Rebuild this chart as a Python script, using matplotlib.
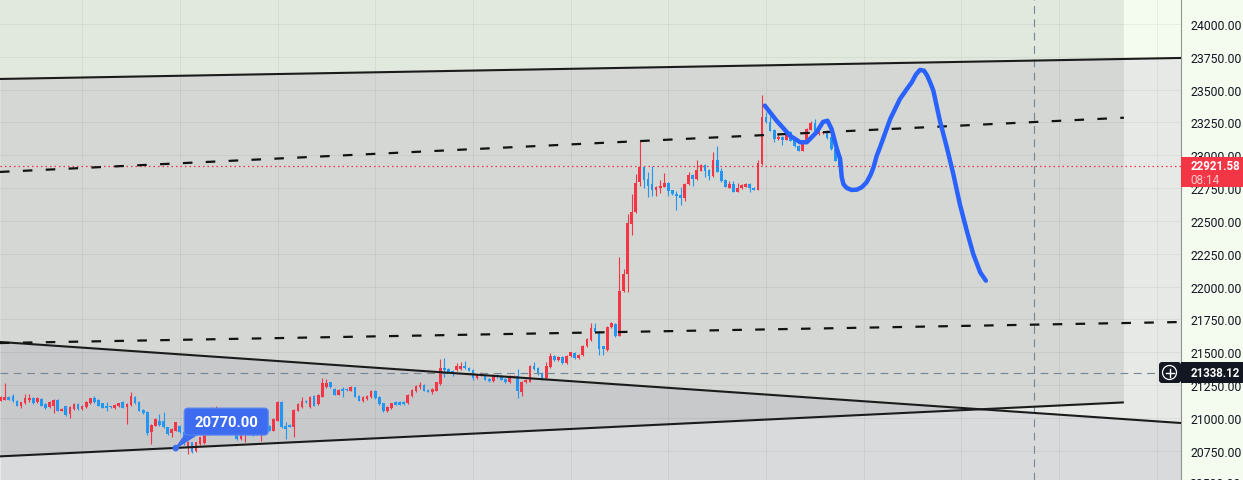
import numpy as np
import matplotlib
matplotlib.use("Agg")
import matplotlib.pyplot as plt
from matplotlib.patches import FancyBboxPatch, Polygon, Circle, Rectangle
from matplotlib.lines import Line2D
import matplotlib.transforms as mtransforms

plt.rcParams['font.family'] = ['Roboto', 'DejaVu Sans']

# ---------------- data ----------------
opens = [21131, 21139, 21157, 21165, 21131, 21093, 21111, 21139, 21149, 21119,
         21144, 21106, 21081, 21093, 21139, 21055, 21088, 21030, 21068, 21106,
         21068, 21081, 21114, 21149, 21139, 21111, 21088, 21088, 21073, 21088,
         21123, 21081, 21098, 21162, 21119, 21060, 21043, 20890, 20941, 20979,
         20979, 20928, 20885, 20903, 20941, 20894, 20775, 20814, 20746, 20801,
         20809, 20877, 20928, 20954, 21017, 21005, 20916, 20948, 20941, 20839,
         20877, 20916, 20898, 20877, 20890, 20916, 20941, 20903, 20979, 21119,
         20941, 20948, 20933, 21055, 21085, 21131, 21081, 21169, 21106, 21162,
         21233, 21271, 21220, 21177, 21220, 21220, 21207, 21233, 21169, 21126,
         21144, 21157, 21207, 21162, 21111, 21050, 21075, 21119, 21119, 21119,
         21111, 21164, 21203, 21233, 21251, 21215, 21195, 21207, 21258, 21380,
         21372, 21359, 21365, 21372, 21397, 21378, 21367, 21302, 21327, 21327,
         21296, 21281, 21329, 21317, 21296, 21275, 21309, 21317, 21200, 21271,
         21276, 21398, 21382, 21342, 21302, 21385, 21474, 21443, 21466, 21416,
         21469, 21494, 21453, 21479, 21545, 21593, 21684, 21654, 21545, 21519,
         21692, 21715, 21626, 21969, 22096, 22477, 22566, 22794, 22908, 22819,
         22781, 22738, 22748, 22761, 22789, 22733, 22705, 22697, 22677, 22781,
         22850, 22819, 22883, 22926, 22890, 22844, 22966, 22883, 22814, 22753,
         22781, 22723, 22748, 22761, 22781, 22751, 22738, 22934, 23292, 23252,
         23195, 23124, 23137, 23119, 23180, 23119, 23073, 23035, 23104, 23195,
         23246, 23162, 23167, 23188, 23137, 23048, 22959]
highs = [21165, 21266, 21163, 21182, 21137, 21124, 21182, 21182, 21156, 21158,
         21150, 21112, 21125, 21145, 21145, 21074, 21094, 21087, 21112, 21112,
         21099, 21125, 21155, 21167, 21145, 21117, 21121, 21094, 21104, 21117,
         21129, 21112, 21195, 21168, 21125, 21066, 21049, 20952, 20998, 21030,
         21045, 20934, 20922, 20972, 20947, 20900, 20824, 20820, 20820, 20858,
         20876, 20947, 21081, 21093, 21023, 21011, 20960, 20954, 20947, 20922,
         20929, 20922, 20904, 20934, 20972, 20922, 20947, 20998, 21125, 21125,
         20969, 20954, 21066, 21112, 21162, 21137, 21168, 21175, 21183, 21304,
         21296, 21277, 21226, 21219, 21238, 21226, 21246, 21239, 21175, 21163,
         21175, 21209, 21213, 21168, 21117, 21091, 21117, 21125, 21125, 21125,
         21183, 21219, 21252, 21276, 21257, 21221, 21226, 21277, 21449, 21454,
         21378, 21365, 21418, 21428, 21436, 21384, 21373, 21333, 21348, 21333,
         21302, 21333, 21335, 21323, 21302, 21323, 21328, 21372, 21282, 21295,
         21404, 21423, 21388, 21348, 21428, 21494, 21480, 21472, 21472, 21480,
         21505, 21500, 21485, 21556, 21607, 21723, 21723, 21660, 21551, 21698,
         21731, 21725, 22222, 22134, 22553, 22705, 22857, 23111, 22914, 22870,
         22916, 22767, 22814, 22865, 22795, 22739, 22730, 22756, 22787, 22870,
         22856, 22966, 22932, 22932, 22896, 23023, 23073, 22903, 22820, 22804,
         22806, 22787, 22780, 22787, 22787, 22757, 22962, 23459, 23328, 23297,
         23201, 23170, 23143, 23186, 23186, 23125, 23079, 23117, 23206, 23264,
         23277, 23181, 23176, 23194, 23143, 23054, 22965]
lows = [21125, 21133, 21133, 21119, 21087, 21075, 21105, 21121, 21108, 21113,
        21087, 21067, 21075, 21037, 21049, 21049, 21016, 20999, 21062, 21062,
        21062, 21075, 21108, 21117, 21087, 21072, 21055, 21075, 21067, 21082,
        21072, 20954, 21092, 21105, 21049, 21029, 20870, 20801, 20935, 20940,
        20922, 20871, 20854, 20897, 20884, 20795, 20725, 20732, 20740, 20795,
        20803, 20871, 20922, 20948, 20910, 20922, 20910, 20917, 20833, 20833,
        20814, 20871, 20859, 20871, 20822, 20884, 20897, 20897, 20973, 20922,
        20839, 20927, 20854, 21049, 21079, 21113, 21075, 21087, 21100, 21156,
        21227, 21227, 21171, 21171, 21157, 21207, 21201, 21156, 21125, 21120,
        21138, 21151, 21146, 21100, 21044, 21044, 21069, 21095, 21095, 21100,
        21105, 21158, 21197, 21220, 21201, 21194, 21180, 21201, 21252, 21309,
        21346, 21321, 21359, 21366, 21372, 21354, 21291, 21296, 21321, 21285,
        21275, 21275, 21303, 21285, 21269, 21269, 21303, 21149, 21169, 21265,
        21270, 21366, 21328, 21290, 21296, 21379, 21437, 21437, 21410, 21410,
        21463, 21447, 21447, 21473, 21539, 21587, 21648, 21479, 21479, 21513,
        21686, 21614, 21620, 21956, 21961, 22393, 22560, 22768, 22748, 22680,
        22688, 22692, 22713, 22755, 22692, 22697, 22586, 22621, 22654, 22775,
        22764, 22813, 22877, 22832, 22814, 22838, 22869, 22800, 22755, 22747,
        22717, 22717, 22742, 22755, 22718, 22732, 22732, 22928, 23246, 23182,
        23104, 23118, 23079, 23113, 23105, 23063, 23029, 23029, 23098, 23189,
        23156, 23156, 23161, 23124, 23042, 22953, 22915]
closes = [21157, 21159, 21139, 21126, 21093, 21119, 21152, 21149, 21114, 21152,
          21093, 21073, 21119, 21139, 21055, 21068, 21022, 21081, 21106, 21068,
          21093, 21119, 21149, 21123, 21093, 21078, 21078, 21081, 21098, 21111,
          21078, 21106, 21169, 21111, 21055, 21035, 20885, 20946, 20992, 20946,
          20928, 20877, 20916, 20966, 20890, 20801, 20818, 20738, 20814, 20852,
          20870, 20941, 21005, 21030, 20916, 20928, 20954, 20923, 20839, 20916,
          20923, 20877, 20865, 20928, 20966, 20890, 20903, 20992, 21119, 20928,
          20916, 20933, 21060, 21106, 21131, 21119, 21162, 21093, 21177, 21264,
          21264, 21233, 21177, 21213, 21207, 21213, 21233, 21162, 21131, 21157,
          21169, 21203, 21152, 21106, 21050, 21085, 21111, 21101, 21101, 21106,
          21177, 21213, 21246, 21251, 21207, 21200, 21220, 21271, 21378, 21365,
          21352, 21342, 21397, 21397, 21378, 21360, 21302, 21327, 21342, 21291,
          21281, 21327, 21309, 21291, 21275, 21317, 21322, 21207, 21276, 21289,
          21398, 21372, 21334, 21296, 21398, 21474, 21443, 21466, 21416, 21474,
          21499, 21453, 21479, 21550, 21601, 21684, 21654, 21525, 21525, 21692,
          21725, 21626, 21969, 22096, 22482, 22566, 22789, 22908, 22814, 22768,
          22738, 22761, 22768, 22789, 22730, 22703, 22692, 22677, 22781, 22850,
          22819, 22890, 22926, 22883, 22844, 22966, 22875, 22806, 22761, 22781,
          22723, 22751, 22774, 22781, 22748, 22738, 22941, 23292, 23252, 23188,
          23124, 23137, 23119, 23180, 23111, 23069, 23035, 23111, 23200, 23246,
          23162, 23175, 23170, 23130, 23048, 22959, 22921.58]

price_ticks = [20750, 21000, 21250, 21500, 21750, 22000, 22250, 22500,
               22750, 23000, 23250, 23500, 23750, 24000]
price_tick_labels = ["20750.00", "21000.00", "21250.00", "21500.00", "21750.00",
                     "22000.00", "22250.00", "22500.00", "22750.00", "23000.00",
                     "23250.00", "23500.00", "23750.00", "24000.00"]
cut_tick_label = "20500.00"

last_price = 22921.58
last_price_label = "22921.58"
countdown_label = "08:14"
crosshair_price = 21338.12
crosshair_label = "21338.12"
crosshair_idx = 253.8

note_idx = 43.0
note_price = 20770.0
note_text = "20770.00"

# drawing anchors (bar index, price)
top_line_x = [-0.165, 289.93]
top_line_y = [23581, 23741]
upper_dash_x = [-0.165, 275.9]
upper_dash_y = [22873, 23286]
lower_dash_x = [-0.165, 289.93]
lower_dash_y = [21570, 21730]
desc_line_x = [-0.165, 289.93]
desc_line_y = [21578, 20961]
asc_line_x = [-0.165, 275.9]
asc_line_y = [20707, 21118]

brush_idx = [187.7, 190.6, 193.9, 196.4, 198.0, 200.4, 202.0, 203.1, 204.1, 205.4,
             206.2, 206.6, 207.0, 207.8, 209.0, 210.3, 211.5, 212.7, 213.7, 214.4,
             215.2, 216.0, 218.5, 220.9, 222.6, 223.8, 224.8, 225.8, 226.8, 227.6,
             228.4, 229.1, 230.7, 232.4, 234.0, 235.6, 237.3, 238.9, 240.6, 242.0]
brush_price = [23378, 23263, 23149, 23099, 23099, 23175, 23254, 23263, 23200, 23048,
               22972, 22832, 22781, 22751, 22736, 22738, 22756, 22794, 22852, 22908,
               22997, 23061, 23276, 23429, 23505, 23556, 23614, 23650, 23644, 23606,
               23548, 23492, 23263, 23061, 22857, 22629, 22426, 22248, 22109, 22045]

# ---------------- figure ----------------
W, H = 1243, 481
BG = '#f4fbef'
RED = '#f23645'
BLUE = '#2196f3'
DARK = '#131722'

fig = plt.figure(figsize=(W / 100, H / 100), dpi=100)
fig.patch.set_facecolor(BG)
ax = fig.add_axes([0, 0, 1181 / W, 1])
ax.set_facecolor(BG)
ax.set_xlim(-0.165, 289.93)
ax.set_ylim(20527, 24190)

for s in ['top', 'left', 'bottom']:
    ax.spines[s].set_visible(False)
ax.spines['right'].set_color('#8f948f')
ax.spines['right'].set_linewidth(0.8)
ax.set_xticks([])
ax.yaxis.tick_right()
ax.set_yticks(price_ticks)
ax.set_yticklabels(price_tick_labels)
ax.tick_params(axis='y', length=0, pad=6.6, labelsize=8.8, labelcolor=DARK)

# fills
ax.fill_between(desc_line_x, desc_line_y, [top_line_y[0], top_line_y[1]],
                color='#e6e9e5', lw=0, zorder=0.5)
ax.fill_between(desc_line_x, [20000, 20000], desc_line_y,
                color='#d9dadc', lw=0, zorder=0.5)
ax.fill_between(asc_line_x, asc_line_y, [25000, 25000],
                color='k', alpha=0.075, lw=0, zorder=0.6)

# grid
for p in price_ticks:
    ax.axhline(p, color='k', alpha=0.05, lw=0.75, zorder=0.8)
for gx in range(20, 290, 24):
    ax.axvline(gx, color='k', alpha=0.05, lw=0.75, zorder=0.8)

# candles
o = np.array(opens, float)
c = np.array(closes, float)
hi = np.array(highs, float)
lo = np.array(lows, float)
idx = np.arange(len(o))
cols = np.where(c >= o, RED, BLUE)
ax.vlines(idx, lo, hi, colors=cols, lw=0.8, zorder=3)
body_h = np.maximum(np.abs(c - o), 7)
ax.bar(idx, body_h, bottom=np.minimum(o, c), width=0.66, color=cols, lw=0, zorder=3.1)

# price and crosshair lines
ax.axhline(last_price, color=RED, lw=0.9, dashes=(1.2, 2.4), zorder=4)
ax.plot([-0.165, 284.5], [crosshair_price, crosshair_price], color='#758696',
        lw=0.8, dashes=(7, 5), zorder=4)
ax.axvline(crosshair_idx, color='#758696', lw=0.8, dashes=(7, 5), zorder=4)

# drawings
line_kw = dict(color='#1b1b1b', lw=1.5, zorder=5, solid_capstyle='butt')
ax.plot(top_line_x, top_line_y, **line_kw)
ax.plot(desc_line_x, desc_line_y, **line_kw)
ax.plot(asc_line_x, asc_line_y, **line_kw)
ax.plot(upper_dash_x, upper_dash_y, color='#121212', lw=1.6, dashes=(4.3, 6.0), zorder=5)
ax.plot(lower_dash_x, lower_dash_y, color='#121212', lw=1.6, dashes=(4.3, 6.0), zorder=5)

ax.plot(brush_idx, brush_price, color='#2962ff', lw=3.2, solid_capstyle='round',
        solid_joinstyle='round', zorder=6)

# note callout
ID = mtransforms.IdentityTransform()
fig.canvas.draw()
axp, ayp = ax.transData.transform((note_idx, note_price))
NOTE = '#3d6cf0'
tail = Polygon([(axp, ayp), (axp + 10, ayp + 14), (axp + 22, ayp + 14)],
               closed=True, color=NOTE, transform=ID, zorder=7)
ax.add_patch(tail)
ax.add_patch(Circle((axp, ayp), 2.6, color=NOTE, transform=ID, zorder=7))
box = FancyBboxPatch((axp + 8.5, ayp + 13), 84, 27,
                     boxstyle='round,pad=0,rounding_size=4',
                     facecolor=NOTE, edgecolor='#5a86f5', lw=0.8, transform=ID, zorder=7)
ax.add_patch(box)
ax.text(axp + 8.5 + 42, ayp + 13 + 13.5, note_text, transform=ID, ha='center',
        va='center', color='white', fontsize=10.6, fontweight='bold', zorder=8)

# price scale labels (pixel positions)
def top(y):
    return H - y

fig.text(1190, top(484.5), cut_tick_label, transform=ID, va='center',
         ha='left', fontsize=8.8, color=DARK)

fig.add_artist(Rectangle((1181, top(188)), 62, 30, facecolor=RED, lw=0,
                         transform=ID, zorder=10))
fig.text(1190.5, top(166.5), last_price_label, transform=ID, va='center', ha='left',
         fontsize=8.3, fontweight='bold', color='white', zorder=11)
fig.text(1190.5, top(181), countdown_label, transform=ID, va='center', ha='left',
         fontsize=8.5, color=(1, 1, 1, 0.72), zorder=11)

fig.add_artist(Rectangle((1181, top(384)), 62, 21, facecolor=DARK, lw=0,
                         transform=ID, zorder=10))
fig.text(1190.5, top(373.5), crosshair_label, transform=ID, va='center', ha='left',
         fontsize=8.3, fontweight='bold', color='white', zorder=11)

fig.add_artist(FancyBboxPatch((1159, top(384)), 22, 21,
                              boxstyle='round,pad=0,rounding_size=3',
                              facecolor=DARK, lw=0, transform=ID, zorder=10))
cx, cy = 1169.5, top(373.5)
fig.add_artist(Circle((cx, cy), 7, facecolor='none', edgecolor='white', lw=0.9,
                      transform=ID, zorder=11))
fig.add_artist(Line2D([cx - 4, cx + 4], [cy, cy], color='white', lw=1.0,
                      transform=ID, zorder=11))
fig.add_artist(Line2D([cx, cx], [cy - 4, cy + 4], color='white', lw=1.0,
                      transform=ID, zorder=11))

fig.savefig('out.png', dpi=100, facecolor=BG)
